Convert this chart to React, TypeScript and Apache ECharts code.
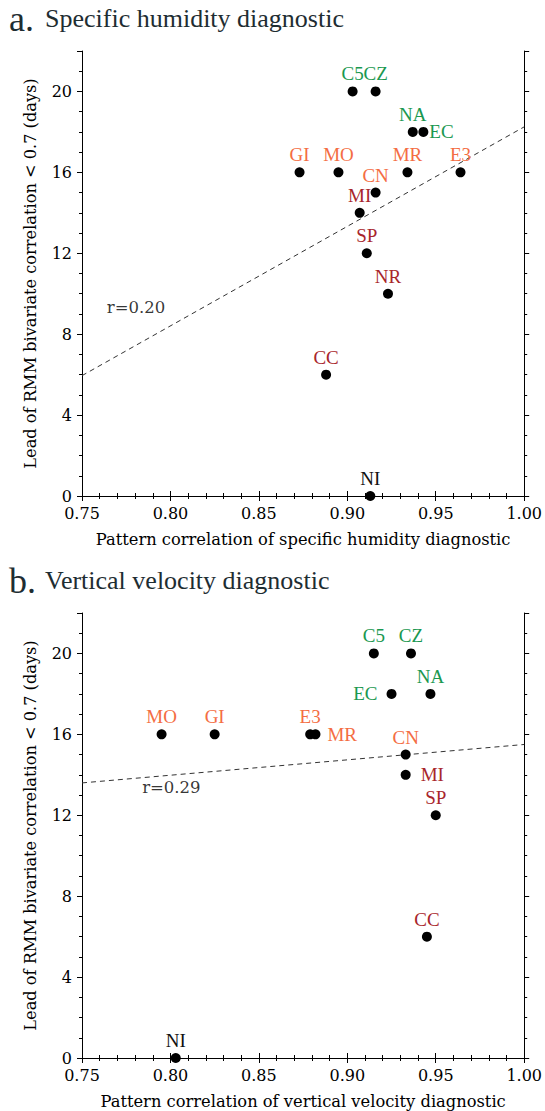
import React, { useEffect, useRef } from "react";
import * as echarts from "echarts";

// ---------- data ----------
const modelsA = ["C5", "CZ", "NA", "EC", "GI", "MO", "MR", "E3", "CN", "MI", "SP", "NR", "CC", "NI"];
const xA = [0.903, 0.916, 0.937, 0.943, 0.873, 0.895, 0.934, 0.964, 0.916, 0.907, 0.911, 0.923, 0.888, 0.913];
const yA = [20, 20, 18, 18, 16, 16, 16, 16, 15, 14, 12, 10, 6, 0];

const modelsB = ["C5", "CZ", "EC", "NA", "MO", "GI", "E3", "MR", "CN", "MI", "SP", "CC", "NI"];
const xB = [0.915, 0.936, 0.925, 0.947, 0.795, 0.825, 0.879, 0.882, 0.933, 0.933, 0.950, 0.945, 0.803];
const yB = [20, 20, 18, 18, 16, 16, 16, 16, 15, 14, 12, 6, 0];

const fitXA = [0.75, 1.0];
const fitYA = [5.95, 18.25];
const fitXB = [0.75, 1.0];
const fitYB = [13.6, 15.5];

const rTextA = "r=0.20";
const rPosA = [0.764, 9.3];
const rTextB = "r=0.29";
const rPosB = [0.784, 13.35];

const titleA = ["a.", "Specific humidity diagnostic"];
const titleB = ["b.", "Vertical velocity diagnostic"];
const xNameA = "Pattern correlation of specific humidity diagnostic";
const xNameB = "Pattern correlation of vertical velocity diagnostic";
const yName = "Lead of RMM bivariate correlation < 0.7 (days)";

const xMin = 0.75, xMax = 1.0, xStep = 0.05;
const yMin = 0, yMax = 22, yStep = 4;

// ---------- styles ----------
const GREEN = "#1a9850";
const ORANGE = "#f46d43";
const RED = "#a8262b";
const BLACK = "#111";
const groupColor: Record<string, string> = {
  C5: GREEN, CZ: GREEN, NA: GREEN, EC: GREEN,
  GI: ORANGE, MO: ORANGE, MR: ORANGE, E3: ORANGE, CN: ORANGE,
  MI: RED, SP: RED, NR: RED, CC: RED,
  NI: BLACK,
};
const labelPosA: Record<string, [string, number]> = { EC: ["right", 1] };
const labelPosB: Record<string, [string, number]> = { EC: ["left", 9], MR: ["right", 7], MI: ["right", 10] };

const SERIF = '"DejaVu Serif"';
const LABEL_FONT = '"Liberation Serif"';

function axesFor(grid: number, xName: string) {
  const line = { show: true, lineStyle: { color: "#000", width: 1 } };
  const xBase = {
    type: "value", gridIndex: grid, min: xMin, max: xMax, interval: xStep,
    axisLine: line,
    axisTick: { show: true, inside: false, length: 5, lineStyle: { color: "#000" } },
    minorTick: { show: true, splitNumber: 5, length: 3, lineStyle: { color: "#000" } },
    splitLine: { show: false }, minorSplitLine: { show: false },
  };
  const xAxes = [
    {
      ...xBase, position: "bottom",
      axisLabel: { show: true, formatter: (v: number) => v.toFixed(2), fontFamily: SERIF, fontSize: 16, color: "#000", margin: 9 },
      name: xName, nameLocation: "middle", nameGap: 35,
      nameTextStyle: { fontFamily: SERIF, fontSize: 16.3, color: "#000" },
    },
    { ...xBase, position: "top", axisLabel: { show: false } },
  ];
  const yMajor = {
    type: "value", gridIndex: grid, min: yMin, max: yMax, interval: yStep,
    axisLine: line,
    axisTick: { show: true, inside: false, length: 5, lineStyle: { color: "#000" } },
    splitLine: { show: false },
  };
  const yMinor = {
    type: "value", gridIndex: grid, min: yMin, max: yMax, interval: 1,
    axisLine: { show: false },
    axisTick: { show: true, inside: false, length: 3, lineStyle: { color: "#000" } },
    axisLabel: { show: false },
    splitLine: { show: false },
  };
  const yAxes = [
    {
      ...yMajor, position: "left",
      axisLabel: {
        show: true, formatter: (v: number) => (v % yStep === 0 && v <= 20 ? String(v) : ""),
        fontFamily: SERIF, fontSize: 16, color: "#000", margin: 10,
      },
      name: yName, nameLocation: "middle", nameGap: 44, nameRotate: 90,
      nameTextStyle: { fontFamily: SERIF, fontSize: 16.2, color: "#000" },
    },
    { ...yMinor, position: "left" },
    { ...yMajor, position: "right", axisLabel: { show: false } },
    { ...yMinor, position: "right" },
  ];
  return { xAxes, yAxes };
}

function seriesFor(
  grid: number, models: string[], xs: number[], ys: number[],
  pos: Record<string, [string, number]>, fitX: number[], fitY: number[],
  rText: string, rPos: number[]
) {
  const xi = grid * 2;
  const yi = grid * 4;
  return [
    {
      type: "scatter", xAxisIndex: xi, yAxisIndex: yi, symbolSize: 10,
      itemStyle: { color: "#000", opacity: 1 },
      label: { show: true, formatter: "{b}", fontFamily: LABEL_FONT, fontSize: 19, position: "top", distance: 3, opacity: 1 },
      emphasis: { disabled: true },
      data: models.map((m, i) => ({
        name: m, value: [xs[i], ys[i]],
        label: {
          color: groupColor[m],
          position: pos[m] ? pos[m][0] : "top",
          distance: pos[m] ? pos[m][1] : 3,
        },
      })),
      z: 3,
    },
    {
      type: "line", xAxisIndex: xi, yAxisIndex: yi, symbol: "none",
      lineStyle: { color: "#333", width: 1, type: [5, 4] },
      data: fitX.map((x, i) => [x, fitY[i]]),
      z: 2,
    },
    {
      type: "scatter", xAxisIndex: xi, yAxisIndex: yi, symbolSize: 0,
      label: { show: true, formatter: rText, position: "right", distance: 0, fontFamily: SERIF, fontSize: 16.5, color: "#000" },
      data: [rPos],
      silent: true,
    },
  ];
}

export default function App() {
  const ref = useRef<HTMLDivElement>(null);
  useEffect(() => {
    if (!ref.current) return;
    const chart = echarts.init(ref.current, undefined, { renderer: "svg" });
    const a = axesFor(0, xNameA);
    const b = axesFor(1, xNameB);
    const titleColor = "#1e2d32";
    chart.setOption({
      animation: false,
      backgroundColor: "#fff",
      grid: [
        { left: 82, top: 51, width: 445, height: 445 },
        { left: 82, top: 613, width: 445, height: 445 },
      ],
      xAxis: [...a.xAxes, ...b.xAxes],
      yAxis: [...a.yAxes, ...b.yAxes],
      series: [
        ...seriesFor(0, modelsA, xA, yA, labelPosA, fitXA, fitYA, rTextA, rPosA),
        ...seriesFor(1, modelsB, xB, yB, labelPosB, fitXB, fitYB, rTextB, rPosB),
      ],
      graphic: [
        { type: "text", left: 9, top: 1, style: { text: titleA[0], font: '36px "Liberation Serif"', fill: titleColor } },
        { type: "text", left: 45, top: 5, style: { text: titleA[1], font: '26px "Liberation Serif"', fill: titleColor } },
        { type: "text", left: 9, top: 563, style: { text: titleB[0], font: '36px "Liberation Serif"', fill: titleColor } },
        { type: "text", left: 45, top: 567, style: { text: titleB[1], font: '26px "Liberation Serif"', fill: titleColor } },
      ],
    });
    return () => chart.dispose();
  }, []);
  return <div ref={ref} style={{ position: "fixed", left: 0, top: 0, width: 545, height: 1111 }} />;
}
